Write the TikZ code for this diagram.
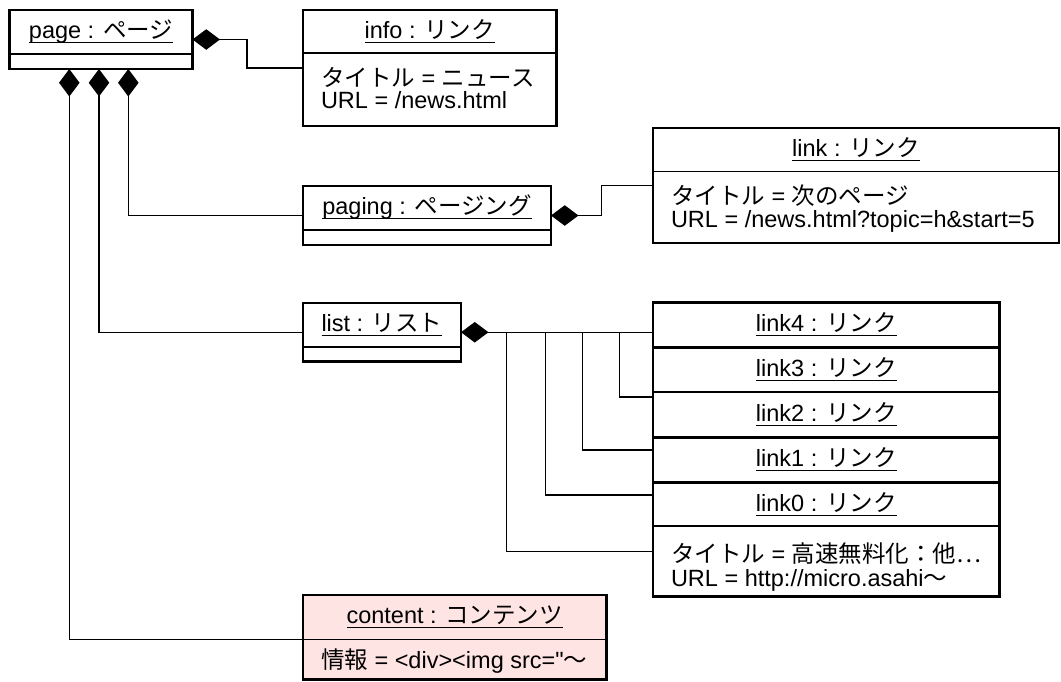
\documentclass[tikz,border=0pt]{standalone}
\usepackage{fontspec}
\setmainfont{Liberation Sans}[Ligatures=TeXOff]
\newfontfamily\jp{Noto Sans CJK JP}
\usetikzlibrary{arrows.meta,calc}
\definecolor{contentpink}{RGB}{255,228,228}
% underlined object name with a fixed underline depth
\newcommand\objname[1]{\setbox0=\hbox{#1}\dp0=3.2pt\vtop{\box0\kern0.4pt\hrule height 1.3pt}}
\begin{document}
\begin{tikzpicture}[x=1pt,y=-1pt,
  objbox/.style={draw,line width=2.6pt,fill=white,inner sep=0pt,outer sep=0pt,anchor=north west},
  sepline/.style={line width=1.3pt},
  txt/.style={inner sep=0pt,outer sep=0pt,font=\fontsize{23.5}{28}\selectfont},
  title/.style={txt,anchor=base},
  attr/.style={txt,anchor=base west},
  conn/.style={line width=1.4pt},
  comp/.style={conn,arrows={Diamond[length=27.5pt,width=20.5pt]-}}]
\useasboundingbox (0,0) rectangle (1061,681);

% ---- object boxes ----
\node[objbox,minimum width=183pt,minimum height=59pt] (page) at (9.5,10) {};
\draw[sepline] ([yshift=-44pt]page.north west) -- ([yshift=-44pt]page.north east);
\node[title] (pageT) at ([yshift=-28.5pt]page.north) {\objname{page : {\jp ページ}}};

\node[objbox,minimum width=253.5pt,minimum height=116pt] (info) at (303,10) {};
\draw[sepline] ([yshift=-43pt]info.north west) -- ([yshift=-43pt]info.north east);
\node[title] (infoT) at ([yshift=-28.5pt]info.north) {\objname{info : {\jp リンク}}};
\node[attr] (infoA) at ([xshift=18pt,yshift=-76pt]info.north west) {{\jp タイトル} = {\jp ニュース}};
\node[attr] (infoB) at ([xshift=18pt,yshift=-98pt]info.north west) {URL = /news.html};

\node[objbox,minimum width=248pt,minimum height=59pt] (paging) at (303,186) {};
\draw[sepline] ([yshift=-44pt]paging.north west) -- ([yshift=-44pt]paging.north east);
\node[title] (pagingT) at ([yshift=-28.5pt]paging.north) {\objname{paging : {\jp ページング}}};

\node[objbox,minimum width=406pt,minimum height=115pt] (link) at (653,128) {};
\draw[sepline] ([yshift=-43.5pt]link.north west) -- ([yshift=-43.5pt]link.north east);
\node[title] (linkT) at ([yshift=-28.5pt]link.north -| 856,0) {\objname{link : {\jp リンク}}};
\node[attr] (linkA) at ([xshift=18pt,yshift=-76pt]link.north west) {{\jp タイトル} = {\jp 次のページ}};
\node[attr] (linkB) at ([xshift=18pt,yshift=-99pt]link.north west) {URL = /news.html?topic=h\&start=5};

\node[objbox,minimum width=158pt,minimum height=58.5pt] (list) at (303,303) {};
\draw[sepline] ([yshift=-44pt]list.north west) -- ([yshift=-44pt]list.north east);
\node[title] (listT) at ([yshift=-28.5pt]list.north) {\objname{list : {\jp リスト}}};

\node[objbox,minimum width=346.5pt,minimum height=44.8pt] (link4) at (653,302.5) {};
\node[title] (link4T) at ([yshift=-29pt]link4.north) {\objname{link4 : {\jp リンク}}};
\node[objbox,minimum width=346.5pt,minimum height=44.7pt] (link3) at (653,347.3) {};
\node[title] (link3T) at ([yshift=-29pt]link3.north) {\objname{link3 : {\jp リンク}}};
\node[objbox,minimum width=346.5pt,minimum height=45.3pt] (link2) at (653,392) {};
\node[title] (link2T) at ([yshift=-29pt]link2.north) {\objname{link2 : {\jp リンク}}};
\node[objbox,minimum width=346.5pt,minimum height=45pt] (link1) at (653,437.3) {};
\node[title] (link1T) at ([yshift=-29pt]link1.north) {\objname{link1 : {\jp リンク}}};
\node[objbox,minimum width=346.5pt,minimum height=114.4pt] (link0) at (653,482.3) {};
\draw[sepline] ([yshift=-43.7pt]link0.north west) -- ([yshift=-43.7pt]link0.north east);
\node[title] (link0T) at ([yshift=-29pt]link0.north) {\objname{link0 : {\jp リンク}}};
\node[attr] (link0A) at ([xshift=18pt,yshift=-80pt]link0.north west) {{\jp タイトル} = {\jp 高速無料化：他⋯}};
\node[attr] (link0B) at ([xshift=18pt,yshift=-104pt]link0.north west) {URL = http://micro.asahi{\jp 〜}};

\node[objbox,fill=contentpink,minimum width=303.5pt,minimum height=84.5pt] (content) at (303,595) {};
\coordinate (cdiv) at ([yshift=-44.5pt]content.north west);
\draw[sepline] (cdiv) -- ([yshift=-44.5pt]content.north east);
\node[title] (contentT) at ([yshift=-28.5pt]content.north) {\objname{content : {\jp コンテンツ}}};
\node[attr] (contentA) at ([xshift=18pt,yshift=-73pt]content.north west) {{\jp 情報} = <div><img src="{\jp 〜}};

% ---- composition links ----
\draw[comp] (page.east) -| ([xshift=-56pt]info.west) -- (info.west);
\draw[comp] ([xshift=118.8pt]page.south west) |- (paging.west);
\draw[comp] ([xshift=89.5pt]page.south west) |- (list.west);
\draw[comp] ([xshift=59.8pt]page.south west) |- (cdiv);

\draw[comp] (paging.east) -| ([xshift=-51.5pt]link.west) -- (link.west);

\draw[comp] (list.east) -- (list.east -| link4.west);
\draw[conn] ([xshift=158.3pt]list.east) |- ([yshift=-5pt]link2.north west);
\draw[conn] ([xshift=121.7pt]list.east) |- ([yshift=-12.7pt]link1.north west);
\draw[conn] ([xshift=84.3pt]list.east) |- ([yshift=-12.7pt]link0.north west);
\draw[conn] ([xshift=45.7pt]list.east) |- ([yshift=-69.4pt]link0.north west);
\end{tikzpicture}
\end{document}
